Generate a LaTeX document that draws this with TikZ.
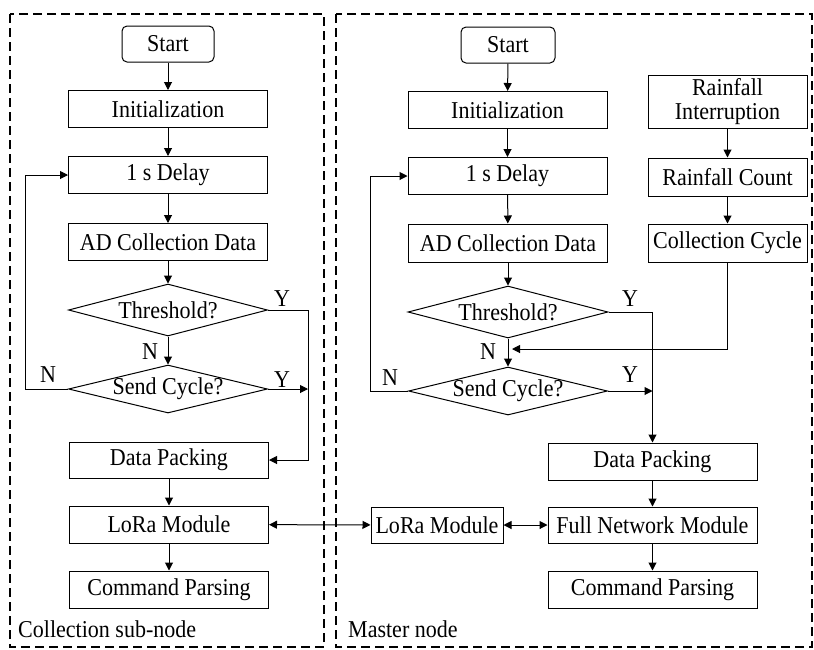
\documentclass[tikz,border=0pt]{standalone}
\usepackage{fontspec}
\setmainfont{Liberation Serif}[FakeStretch=0.91]
\usetikzlibrary{shapes.geometric,arrows.meta}
\begin{document}
\begin{tikzpicture}[x=1pt,y=-1pt,
  font=\fontsize{24.2}{26}\selectfont,
  box/.style={draw,line width=1pt,minimum width=199pt,minimum height=37pt,inner sep=0pt,align=center},
  startbox/.style={draw,line width=1pt,rounded corners=5pt,minimum width=92pt,minimum height=36pt,inner sep=0pt},
  dec/.style={draw,line width=1pt,shape=diamond,inner sep=0pt,minimum width=199pt,minimum height=52pt},
  arr/.style={line width=1pt,-{Triangle[length=8pt,width=8pt]}},
  darr/.style={line width=1pt,{Triangle[length=8pt,width=8pt]}-{Triangle[length=8pt,width=8pt]}},
  frame/.style={line width=1.1pt,dash pattern=on 9pt off 5pt},
  lbl/.style={inner sep=0pt}]
\useasboundingbox (0,0) rectangle (814,649);
\draw[frame] (10,14) rectangle (324,647);
\draw[frame] (336,14) rectangle (812,647);
% left column
\node[startbox] (s1) at (168,44) {Start};
\node[box] (in1) at (168,109) {Initialization};
\node[box] (dl1) at (168,175) {1 s Delay};
\node[box] (ad1) at (168,242) {AD Collection Data};
\node[dec] (th1) at (168,310) {\makebox[0pt]{Threshold?}};
\node[dec,minimum height=48pt] (sc1) at (168,389) {\makebox[0pt]{Send Cycle?}};
\node[box,minimum height=36pt] (dp1) at (169,460) {Data Packing};
\node[box] (lo1) at (169,524.5) {LoRa Module};
\node[box] (cp1) at (169,589.5) {Command Parsing};
\coordinate (c1) at (308,310);
% right column
\node[startbox,minimum width=94pt] (s2) at (508,45) {Start};
\node[box] (in2) at (507.5,110) {Initialization};
\node[box] (dl2) at (507.5,176) {1 s Delay};
\node[box,minimum height=38pt] (ad2) at (508,243) {AD Collection Data};
\node[dec,minimum width=200pt] (th2) at (508,312) {\makebox[0pt]{Threshold?}};
\node[dec,minimum height=48pt] (sc2) at (508,391) {\makebox[0pt]{Send Cycle?}};
\node[box,minimum width=159pt,minimum height=53pt,font=\fontsize{24.2}{24}\selectfont] (ri) at (727.5,101.5) {Rainfall\\Interruption};
\node[box,minimum width=159pt,minimum height=38pt] (rc) at (727.5,177) {Rainfall Count};
\node[box,minimum width=159pt,minimum height=38pt] (cc) at (727.5,243) {Collection Cycle};
\node[box,minimum width=209pt] (dp2) at (652.5,461.5) {Data Packing};
\node[box,minimum width=209pt,minimum height=36pt] (fn) at (652.5,525) {Full Network Module};
\node[box,minimum width=209pt] (cp2) at (652.5,589.5) {Command Parsing};
\node[box,minimum width=132pt,minimum height=36pt] (lo2) at (437,525) {LoRa Module};
\coordinate (m2) at (512,349);
% left connectors
\draw[arr] (s1) -- (in1);
\draw[arr] (in1) -- (dl1);
\draw[arr] (dl1) -- (ad1);
\draw[arr] (ad1) -- (th1);
\draw[arr] (th1) -- (sc1);
\draw[arr] (th1.east) -| (c1 |- dp1.east) -- (dp1.east);
\draw[arr] (sc1.east) -- (sc1.east -| c1);
\draw[arr] (sc1.west) -- ++(-43,0) |- (dl1.west);
\draw[arr] (dp1) -- (lo1);
\draw[arr] (lo1) -- (cp1);
\draw[darr] (lo1) -- (lo2);
% right connectors
\draw[arr] (s2) -- (in2);
\draw[arr] (in2) -- (dl2);
\draw[arr] (dl2) -- (ad2);
\draw[arr] (ad2) -- (th2);
\draw[arr] (th2) -- (sc2);
\draw[arr] (ri) -- (rc);
\draw[arr] (rc) -- (cc);
\draw[arr] (cc.south) |- (m2);
\draw[arr] (th2.east) -| (dp2.north);
\draw[arr] (sc2.east) -- (sc2.east -| dp2.north);
\draw[arr] (sc2.west) -- ++(-38,0) |- (dl2.west);
\draw[arr] (dp2) -- (fn);
\draw[arr] (fn) -- (cp2);
\draw[darr] (lo2) -- (fn);
% labels
\node[lbl] (y1) at (282,299) {Y};
\node[lbl] (y2) at (282,380) {Y};
\node[lbl] (n1) at (150,352) {N};
\node[lbl] (n2) at (48,375) {N};
\node[lbl] (y3) at (630,299) {Y};
\node[lbl] (y4) at (630,375) {Y};
\node[lbl] (n3) at (488,352) {N};
\node[lbl] (n4) at (390,378) {N};
\node[lbl,anchor=base west] (t1) at (18,637) {Collection sub-node};
\node[lbl,anchor=base west] (t2) at (348,637) {Master node};
\end{tikzpicture}
\end{document}
